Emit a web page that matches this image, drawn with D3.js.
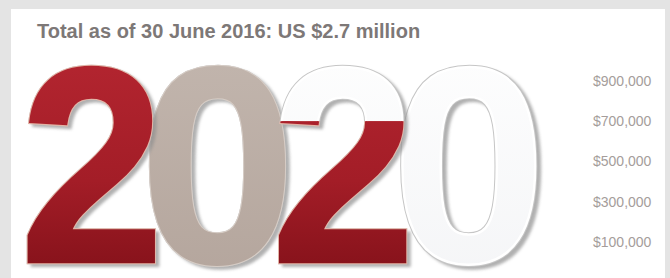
<!DOCTYPE html>
<html>
<head>
<meta charset="utf-8">
<script src="https://cdn.jsdelivr.net/npm/d3@7"></script>
<style>
  html, body { margin: 0; padding: 0; background: #e4e4e4; }
  svg { display: block; }
</style>
</head>
<body>
<div id="chart"></div>
<script>
// ---- data
const title = "Total as of 30 June 2016: US $2.7 million"
const digits = ["2", "0", "2", "0"]
const amounts = [1000000, 1000000, 700000, 0]   // how much of each $1M digit is filled
const fills = ["red", "taupe", "red", "red"]
const tickValues = [100000, 300000, 500000, 700000, 900000]

// ---- dimensions
const dims = {
    width: 670,
    height: 278,
    panel: { left: 11, top: 9, right: 665 }
}

const svg = d3.select("#chart")
    .append("svg")
    .attr("width", dims.width)
    .attr("height", dims.height)

const defs = svg.append("defs")

// gradients
const gradRed = defs.append("linearGradient").attr("id", "g-red")
    .attr("x1", 0).attr("y1", 0).attr("x2", 0).attr("y2", 1)
gradRed.append("stop").attr("offset", "0%").attr("stop-color", "#b92833")
gradRed.append("stop").attr("offset", "55%").attr("stop-color", "#a31d27")
gradRed.append("stop").attr("offset", "100%").attr("stop-color", "#760c14")

const gradTaupe = defs.append("linearGradient").attr("id", "g-taupe")
    .attr("x1", 0).attr("y1", 0).attr("x2", 0).attr("y2", 1)
gradTaupe.append("stop").attr("offset", "0%").attr("stop-color", "#c4b8b0")
gradTaupe.append("stop").attr("offset", "100%").attr("stop-color", "#b2a39a")

const gradWhite = defs.append("linearGradient").attr("id", "g-white")
    .attr("x1", 0).attr("y1", 0).attr("x2", 0).attr("y2", 1)
gradWhite.append("stop").attr("offset", "0%").attr("stop-color", "#ffffff")
gradWhite.append("stop").attr("offset", "100%").attr("stop-color", "#f3f4f6")

const fillColor = { red: "url(#g-red)", taupe: "url(#g-taupe)" }
const edgeColor = { red: "#e2b4a6", taupe: "#d6ccc5" }

defs.append("filter").attr("id", "blur")
    .attr("x", "-10%").attr("y", "-10%").attr("width", "130%").attr("height", "130%")
    .append("feGaussianBlur").attr("stdDeviation", 1.6)

// panel
svg.append("rect")
    .attr("x", dims.panel.left)
    .attr("y", dims.panel.top)
    .attr("width", dims.panel.right - dims.panel.left)
    .attr("height", dims.height)
    .attr("fill", "#ffffff")

// title
svg.append("text")
    .attr("x", 37)
    .attr("y", 38)
    .attr("font-family", "'Liberation Sans', Arial, sans-serif")
    .attr("font-weight", "bold")
    .attr("font-size", 20)
    .attr("fill", "#7d7877")
    .text(title)

// ---- scales
const yScale = d3.scaleLinear()
    .domain([0, 1000000])
    .range([262, 61])

const xScale = d3.scalePoint()
    .domain(d3.range(digits.length))
    .range([92, 469])

// ---- axis (labels only)
const yAxisGenerator = d3.axisRight(yScale)
    .tickValues(tickValues)
    .tickSize(0)
    .tickPadding(0)
    .tickFormat(d => "$" + d3.format(",")(d))

const yAxis = svg.append("g")
    .attr("transform", "translate(593,0)")
    .call(yAxisGenerator)
yAxis.select(".domain").remove()
yAxis.selectAll("text")
    .attr("font-family", "'Liberation Sans', Arial, sans-serif")
    .attr("font-size", 14)
    .attr("fill", "#a59d9b")

// ---- big digits
const digitHeight = yScale(0) - yScale(1000000)
const fontSize = digitHeight / 0.72
const widthFactor = { "2": 0.93, "0": 1.0 }

const rows = digits.map((d, i) => ({
    i,
    digit: d,
    amount: amounts[i],
    fill: fills[i]
}))

// one real text per digit, the layers reuse it
defs.selectAll("text.glyph")
    .data(rows)
    .join("text")
    .attr("class", "glyph")
    .attr("id", d => "glyph-" + d.i)
    .attr("text-anchor", "middle")
    .attr("font-family", "'Liberation Sans', Arial, sans-serif")
    .attr("font-weight", "bold")
    .attr("font-size", fontSize)
    .text(d => d.digit)

// zeros sit behind the twos
const drawOrder = rows.slice().sort((a, b) => (a.digit === "0" ? 0 : 1) - (b.digit === "0" ? 0 : 1))

const digitGroups = svg.append("g")
    .selectAll("g")
    .data(drawOrder)
    .join("g")
    .attr("transform", d => `translate(${xScale(d.i)},${yScale(0)}) scale(${widthFactor[d.digit]},1)`)

const layer = (sel) => sel.append("use").attr("href", d => "#glyph-" + d.i)

// drop shadow
layer(digitGroups)
    .attr("transform", "translate(4,3)")
    .attr("fill", "#8f8f8f")
    .attr("stroke", "#8f8f8f")
    .attr("stroke-width", 4)
    .attr("opacity", 0.7)
    .attr("filter", "url(#blur)")

// empty (white) digit
layer(digitGroups)
    .attr("fill", "url(#g-white)")
    .attr("stroke", "#c6c6c6")
    .attr("stroke-width", 4.5)
layer(digitGroups)
    .attr("fill", "url(#g-white)")
    .attr("stroke", "#ffffff")
    .attr("stroke-width", 2.5)

// filled part, clipped from zero up to the amount
digitGroups.each(function(d) {
    if (d.amount <= 0) return
    const clipId = "clip-" + d.i
    defs.append("clipPath").attr("id", clipId)
        .append("rect")
        .attr("x", -200)
        .attr("y", yScale(d.amount) - yScale(0))
        .attr("width", 400)
        .attr("height", yScale(0) - yScale(d.amount) + 20)
    const g = d3.select(this).append("g").attr("clip-path", `url(#${clipId})`)
    layer(g)
        .attr("fill", fillColor[d.fill])
        .attr("stroke", edgeColor[d.fill])
        .attr("stroke-width", 4.5)
    layer(g)
        .attr("fill", fillColor[d.fill])
        .attr("stroke", fillColor[d.fill])
        .attr("stroke-width", 2.5)
})
</script>
</body>
</html>
